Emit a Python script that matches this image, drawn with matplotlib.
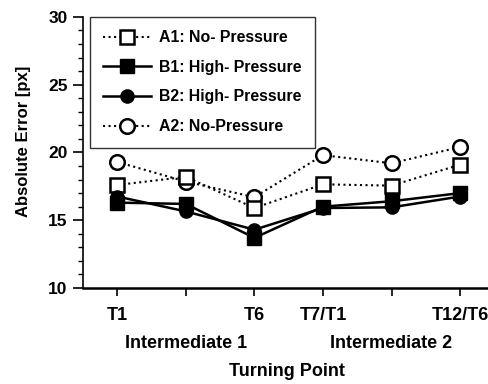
import matplotlib
matplotlib.use("Agg")
import matplotlib.pyplot as plt
from matplotlib.ticker import MultipleLocator
from matplotlib.transforms import blended_transform_factory

plt.rcParams['font.family'] = ['Liberation Sans', 'DejaVu Sans']
plt.rcParams['font.weight'] = 'bold'

positions = [1, 2, 3, 4, 5, 6]
tick_labels = ['T1', '', 'T6', 'T7/T1', '', 'T12/T6']
section_labels = ['Intermediate 1', 'Intermediate 2']
section_pos = [2, 5]

a1_no = [17.6, 18.2, 15.9, 17.65, 17.55, 19.1]
b1_high = [16.3, 16.2, 13.7, 16.0, 16.4, 17.0]
b2_high = [16.75, 15.65, 14.3, 15.9, 15.95, 16.75]
a2_no = [19.3, 17.85, 16.7, 19.8, 19.2, 20.4]

fig = plt.figure(figsize=(4.88, 3.84), dpi=100)
ax = fig.add_axes([0.170, 0.25, 0.836, 0.706])

ms = 10.5
ax.plot(positions, a2_no, ':', color='black', lw=1.5, marker='o', ms=ms,
        mfc='white', mec='black', mew=1.8, label='A2: No-Pressure', zorder=2)
ax.plot(positions, a1_no, ':', color='black', lw=1.5, marker='s', ms=ms,
        mfc='white', mec='black', mew=1.8, label='A1: No- Pressure', zorder=3)
ax.plot(positions, b2_high, '-', color='black', lw=1.8, marker='o', ms=ms - 1,
        mfc='black', mec='black', label='B2: High- Pressure', zorder=4)
ax.plot(positions, b1_high, '-', color='black', lw=1.8, marker='s', ms=ms - 1,
        mfc='black', mec='black', label='B1: High- Pressure', zorder=5)

ax.set_xlim(0.5, 6.45)
ax.set_ylim(10, 30)
ax.yaxis.set_major_locator(MultipleLocator(5))
ax.yaxis.set_minor_locator(MultipleLocator(1))
ax.set_xticks(positions)
ax.set_xticklabels(tick_labels, fontsize=13, fontweight='bold')
ax.tick_params(axis='x', length=6, width=1.2, pad=8)
ax.tick_params(axis='y', which='major', length=7, width=1.2, labelsize=12.5, pad=4)
ax.tick_params(axis='y', which='minor', length=3.5, width=1.0)

for s in ['top', 'right']:
    ax.spines[s].set_visible(False)
ax.spines['left'].set_linewidth(1.2)
ax.spines['bottom'].set_linewidth(1.8)

# group labels under the tick labels
trans = blended_transform_factory(ax.transData, ax.transAxes)
for p, lab in zip(section_pos, section_labels):
    ax.text(p, -0.205, lab, transform=trans, ha='center', va='center',
            fontsize=13, fontweight='bold')

ax.set_xlabel('Turning Point', fontsize=13, fontweight='bold')
ax.xaxis.set_label_coords(0.5, -0.277)
ax.set_ylabel('Absolute Error [px]', fontsize=12, fontweight='bold')
ax.yaxis.set_label_coords(-0.128, 0.54)

handles, labels = ax.get_legend_handles_labels()
order = [1, 3, 2, 0]
leg = ax.legend([handles[i] for i in order], [labels[i] for i in order],
                loc='upper left', bbox_to_anchor=(0.017, 1.0), borderaxespad=0,
                fontsize=11.4, frameon=True, fancybox=False, borderpad=0.85,
                labelspacing=0.92, handlelength=3.0, handletextpad=0.5)
leg.get_frame().set_edgecolor('black')
leg.get_frame().set_linewidth(1.0)

fig.savefig('out.png', dpi=100)
